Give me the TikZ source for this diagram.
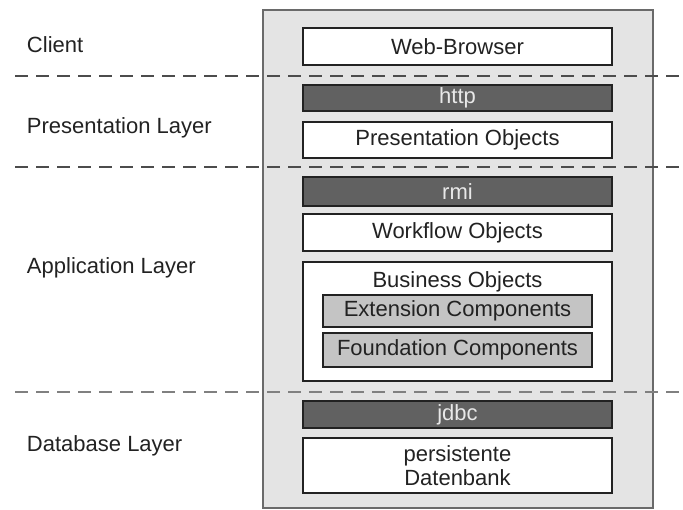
\documentclass[tikz,border=0pt]{standalone}
\usepackage{fontspec}
\setmainfont{Liberation Sans}
\definecolor{panelfill}{HTML}{E4E4E4}
\definecolor{panelline}{HTML}{6A6A6A}
\definecolor{barfill}{HTML}{616161}
\definecolor{bartext}{HTML}{E8E8E8}
\definecolor{compfill}{HTML}{C4C4C4}
\definecolor{ink}{HTML}{222222}
\begin{document}
\begin{tikzpicture}[x=1pt,y=-1pt,
  every node/.style={inner sep=0pt, outer sep=0pt, font=\fontsize{22}{24}\selectfont, text=ink},
  panel/.style={draw=panelline, line width=1.2pt, fill=panelfill},
  whitebox/.style={draw=ink, line width=1.5pt, fill=white, minimum width=309pt, align=center},
  bar/.style={draw=ink, line width=1.2pt, fill=barfill, text=bartext, minimum width=309pt},
  compbox/.style={draw=ink, line width=1.5pt, fill=compfill, minimum width=269pt},
  layerlabel/.style={anchor=west},
  divider/.style={dashed, dash pattern=on 13pt off 8pt, line width=1.5pt}
]
\useasboundingbox (0,0) rectangle (683,510);
\fill[white] (0,0) rectangle (683,510);

% grey panel holding the stack
\node[panel, minimum width=390pt, minimum height=498pt] (panel) at (458,259) {};

% layer dividers
\coordinate (d1l) at (15,76);  \coordinate (d1r) at (683,76);
\coordinate (d2l) at (15,167); \coordinate (d2r) at (683,167);
\coordinate (d3l) at (15,392); \coordinate (d3r) at (683,392);
\draw[divider, draw=black!70] (d1l) -- (d1r);
\draw[divider, draw=black!70] (d2l) -- (d2r);
\draw[divider, draw=black!50] (d3l) -- (d3r);

% layer names
\node[layerlabel] (lclient) at (27,45)  {Client};
\node[layerlabel] (lpres)   at (27,128) {Presentation Layer};
\node[layerlabel] (lapp)    at (27,268) {Application Layer};
\node[layerlabel] (ldb)     at (27,446) {Database Layer};

% client
\node[whitebox, minimum height=37pt] (browser) at (457.5,46.5) {Web-Browser};

% presentation layer
\node[bar, minimum height=26pt] (http) at (457.5,98) {http};
\node[whitebox, minimum height=36pt] (presobj) at (457.5,140) {Presentation Objects};

% application layer
\node[bar, minimum height=29pt] (rmi) at (457.5,191.5) {rmi};
\node[whitebox, minimum height=37pt] (workflow) at (457.5,232.5) {Workflow Objects};
\node[whitebox, minimum height=119pt] (business) at (457.5,321.5) {};
\node (businesstitle) at (457.5,282) {Business Objects};
\node[compbox, minimum height=32pt] (extension) at (457.5,311) {Extension Components};
\node[compbox, minimum height=34pt] (foundation) at (457.5,350) {Foundation Components};

% database layer
\node[bar, minimum height=27pt] (jdbc) at (457.5,414.5) {jdbc};
\node[whitebox, minimum height=55pt] (database) at (457.5,465.5) {persistente\\Datenbank};
\end{tikzpicture}
\end{document}
